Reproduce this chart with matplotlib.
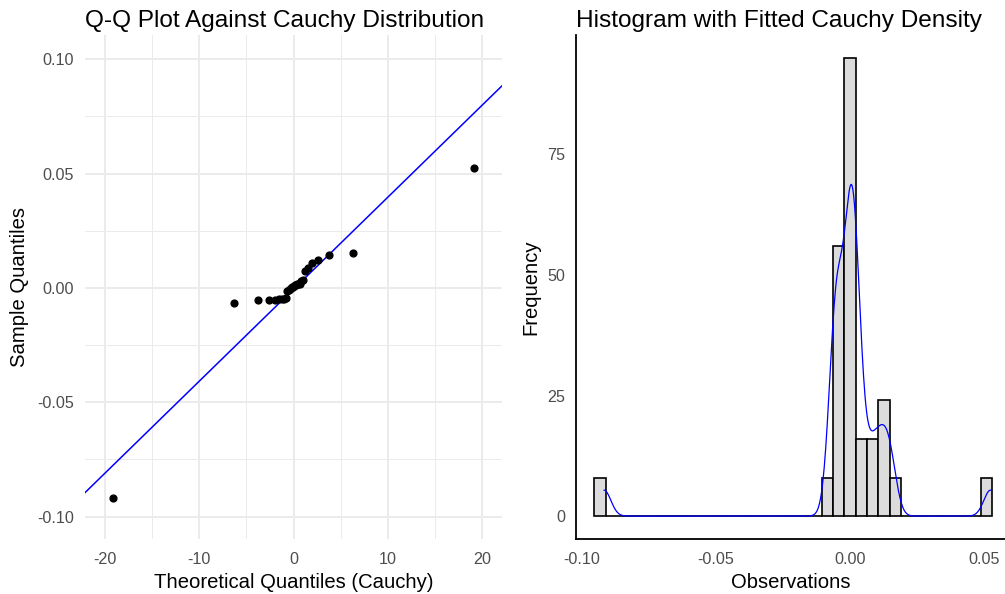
import numpy as np
import matplotlib
matplotlib.use("Agg")
import matplotlib.pyplot as plt

plt.rcParams['font.family'] = ['Liberation Sans', 'DejaVu Sans']

# Q-Q: teoricos Cauchy (30 puntos) y cuantiles muestrales ordenados
theo_q = [-19.081, -6.314, -3.732, -2.605, -1.963, -1.540, -1.235, -1.000, -0.810, -0.649,
          -0.510, -0.384, -0.268, -0.158, -0.052, 0.052, 0.158, 0.268, 0.384, 0.510,
          0.649, 0.810, 1.000, 1.235, 1.540, 1.963, 2.605, 3.732, 6.314, 19.081]
sample_q = [-0.0918, -0.0068, -0.0055, -0.0054, -0.0051, -0.0050, -0.0049, -0.0047, -0.0043, -0.0013,
            -0.0009, -0.0005, -0.0002, 0.0002, 0.0005, 0.0008, 0.0011, 0.0013, 0.0015, 0.0017,
            0.0019, 0.0030, 0.0036, 0.0072, 0.0086, 0.0110, 0.0122, 0.0145, 0.0153, 0.0525]
# cuantas veces aparece cada valor en las observaciones del histograma
reps = [8, 8, 8, 8, 8, 8, 8, 8, 8, 8,
        8, 8, 8, 8, 7, 8, 8, 8, 8, 8,
        8, 8, 8, 8, 8, 8, 8, 8, 8, 8]
cauchy_quartiles = [-1.0, 1.0]
n_bins = 35
bw_adjust = 1.35

obs = np.repeat(np.array(sample_q), reps)

fig = plt.figure(figsize=(10.05, 5.94), dpi=100)
ax1 = fig.add_axes([85/1005, 55/594, 417/1005, 504/594])
ax2 = fig.add_axes([576/1005, 55/594, 429/1005, 504/594])

tick_col = '#4D4D4D'
tick_fs = 11.6
lab_fs = 14.6
tit_fs = 17.6

# ---------------- Q-Q plot ----------------
ax1.set_facecolor('white')
for s in ax1.spines.values():
    s.set_visible(False)
ax1.set_xlim(-22.1, 22.1)
ax1.set_ylim(-0.1098, 0.1106)
ax1.set_xticks([-20, -10, 0, 10, 20])
ax1.set_xticklabels(['-20', '-10', '0', '10', '20'])
ax1.set_yticks([-0.10, -0.05, 0.0, 0.05, 0.10])
ax1.set_yticklabels(['-0.10', '-0.05', '0.00', '0.05', '0.10'])
ax1.set_xticks([-15, -5, 5, 15], minor=True)
ax1.set_yticks([-0.075, -0.025, 0.025, 0.075], minor=True)
ax1.grid(which='major', color='#EBEBEB', lw=1.4)
ax1.grid(which='minor', color='#EBEBEB', lw=0.7)
ax1.set_axisbelow(True)
ax1.tick_params(which='both', length=0)
ax1.tick_params(axis='x', pad=9, labelsize=tick_fs, labelcolor=tick_col)
ax1.tick_params(axis='y', pad=8, labelsize=tick_fs, labelcolor=tick_col)

# linea por los cuartiles
q25, q75 = np.quantile(sample_q, [0.25, 0.75])
slope = (q75 - q25) / (cauchy_quartiles[1] - cauchy_quartiles[0])
inter = q25 - slope * cauchy_quartiles[0]
ax1.axline((0, inter), slope=slope, color='blue', lw=1.1)
ax1.scatter(theo_q, sample_q, s=24, color='black', zorder=3)

ax1.set_title("Q-Q Plot Against Cauchy Distribution", loc='left', fontsize=tit_fs, pad=6)
ax1.set_xlabel("Theoretical Quantiles (Cauchy)", fontsize=lab_fs, labelpad=4.5)
ax1.set_ylabel("Sample Quantiles", fontsize=lab_fs, labelpad=6)

# ---------------- Histograma ----------------
lo, hi = obs.min(), obs.max()
bw_hist = (hi - lo) / (n_bins - 1)
k0 = np.floor(lo / bw_hist - 0.5)
k1 = np.ceil(hi / bw_hist - 0.5)
edges = (np.arange(k0, k1 + 1) + 0.5) * bw_hist

ax2.hist(obs, bins=edges, color='#DCDCDC', edgecolor='black', lw=1.2)

# densidad (kernel gaussiano, ancho nrd0 * ajuste) escalada a frecuencias
iqr = np.subtract(*np.quantile(obs, [0.75, 0.25]))
h = bw_adjust * 0.9 * min(obs.std(ddof=1), iqr / 1.34) * len(obs) ** (-0.2)
xs = np.linspace(lo, hi, 512)
dens = np.exp(-0.5 * ((xs[:, None] - obs[None, :]) / h) ** 2).sum(axis=1) / (len(obs) * h * np.sqrt(2 * np.pi))
ax2.plot(xs, dens * len(obs) * bw_hist, color='blue', lw=0.9)

ax2.set_xlim(-0.1023, 0.0579)
ax2.set_ylim(-4.75, 99.75)
ax2.set_xticks([-0.10, -0.05, 0.0, 0.05])
ax2.set_xticklabels(['-0.10', '-0.05', '0.00', '0.05'])
ax2.set_yticks([0, 25, 50, 75])
for side in ['top', 'right']:
    ax2.spines[side].set_visible(False)
for side in ['left', 'bottom']:
    ax2.spines[side].set_linewidth(1.3)
ax2.tick_params(length=0)
ax2.tick_params(axis='x', pad=9, labelsize=tick_fs, labelcolor=tick_col)
ax2.tick_params(axis='y', pad=8, labelsize=tick_fs, labelcolor=tick_col)

ax2.set_title("Histogram with Fitted Cauchy Density", loc='left', fontsize=tit_fs, pad=6)
ax2.set_xlabel("Observations", fontsize=lab_fs, labelpad=4.5)
ax2.set_ylabel("Frequency", fontsize=lab_fs, labelpad=5)

fig.savefig("out.png", dpi=100)
